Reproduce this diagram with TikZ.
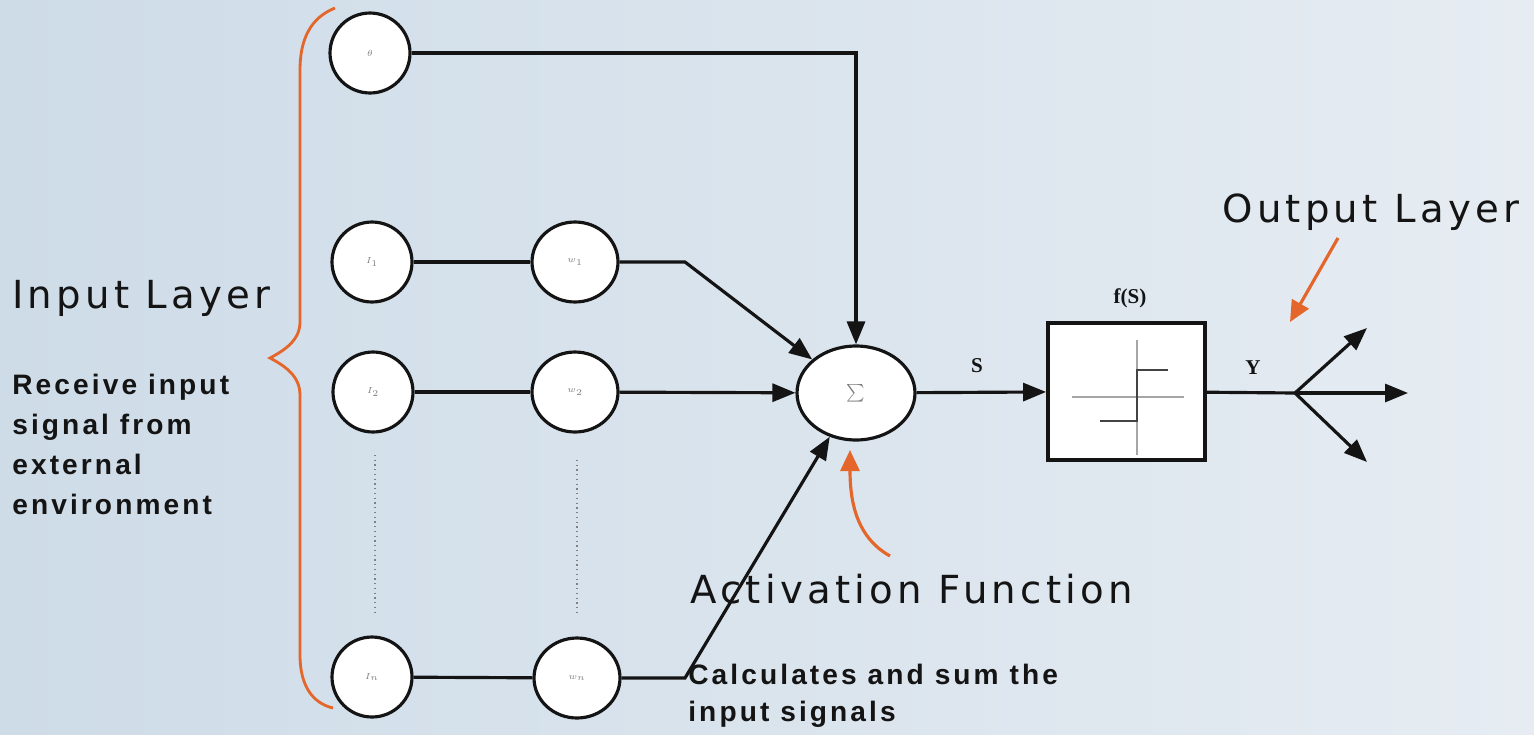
\documentclass[tikz,border=0pt]{standalone}
\usepackage{fontspec}
\setmainfont{Liberation Serif}
\newfontfamily\djv[LetterSpace=11]{DejaVu Sans}
\newfontfamily\lib[LetterSpace=11]{Liberation Sans}
\usetikzlibrary{arrows.meta,shapes.geometric}
\definecolor{bgL}{RGB}{206,220,232}
\definecolor{bgR}{RGB}{230,236,242}
\definecolor{org}{RGB}{228,102,42}
\definecolor{ink}{RGB}{20,20,20}
\tikzset{
  neuron/.style={circle,draw=ink,line width=1.8pt,fill=white,minimum size=1.6cm,inner sep=0pt,font=\tiny,text=gray},
  wnode/.style={ellipse,draw=ink,line width=1.8pt,fill=white,minimum width=1.72cm,minimum height=1.6cm,inner sep=0pt,font=\tiny,text=gray},
  sumnode/.style={ellipse,draw=ink,line width=1.8pt,fill=white,minimum width=2.36cm,minimum height=1.88cm,inner sep=0pt,font=\scriptsize,text=gray},
  fbox/.style={rectangle,draw=ink,line width=2.2pt,fill=white,minimum width=3.14cm,minimum height=2.74cm,inner sep=0pt},
  conn/.style={draw=ink,line width=1.8pt},
  arr/.style={conn,-{Triangle[length=0.46cm,width=0.36cm]}},
  oarr/.style={draw=org,line width=1.8pt,-{Triangle[length=0.42cm,width=0.38cm]}},
  bigtxt/.style={font=\djv\fontsize{22}{26}\selectfont,text=ink,inner sep=0pt},
  smalltxt/.style={font=\lib\bfseries\fontsize{16}{22.7}\selectfont,text=ink,inner sep=0pt,align=left},
  lbl/.style={font=\bfseries\fontsize{12}{14}\selectfont,text=ink,inner sep=0pt},
  dotline/.style={draw=gray,line width=0.7pt,dotted}
}
\begin{document}
\begin{tikzpicture}[x=0.02cm,y=-0.02cm]
\useasboundingbox (0,0) rectangle (1534,734);
\shade[left color=bgL,right color=bgR] (0,0) rectangle (1534,734);
% brace
\draw[org,line width=1.6pt] (335,8) .. controls (310,18) and (300,40) .. (300,70) -- (300,322) .. controls (300,340) and (285,350) .. (270,358) .. controls (285,366) and (300,376) .. (300,395) -- (300,655) .. controls (300,685) and (312,703) .. (333,708);
% nodes
\node[neuron] (theta) at (370,53) {$\theta$};
\node[neuron] (i1) at (372,262) {$I_1$};
\node[neuron] (i2) at (373,392) {$I_2$};
\node[neuron] (in) at (372,677) {$I_n$};
\node[wnode] (w1) at (575,262) {$w_1$};
\node[wnode] (w2) at (575,392) {$w_2$};
\node[wnode] (wn) at (577,678) {$w_n$};
\node[sumnode] (sum) at (856,393) {$\sum$};
\node[fbox] (f) at (1126.5,391.5) {};
\coordinate (c1) at (685,262);
\coordinate (c3) at (685,678);
\coordinate (split) at (1295,393);
\coordinate (o1) at (1367,328);
\coordinate (o2) at (1408,393);
\coordinate (o3) at (1367,462);
% dotted
\draw[dotline] (375,455) -- (375,612);
\draw[dotline] (577,460) -- (577,615);
% connectors
\draw[conn] (i1) -- (w1);
\draw[conn] (i2) -- (w2);
\draw[conn] (in) -- (wn);
\draw[arr] (theta) -- (theta -| sum) -- (sum);
\draw[arr] (w1) -- (c1) -- (sum);
\draw[arr] (w2) -- (sum);
\draw[arr] (wn) -- (c3) -- (sum);
\draw[arr] (sum) -- (f);
\draw[conn] (f) -- (split);
\draw[arr] (split) -- (o1);
\draw[arr] (split) -- (o2);
\draw[arr] (split) -- (o3);
% step function
\draw[gray!70,line width=0.6pt] (1072,397) -- (1184,397);
\draw[gray!70,line width=0.6pt] (1137,340) -- (1137,455);
\draw[ink!80,line width=1.2pt] (1100,421) -- (1137,421) -- (1137,370) -- (1168,370);
% labels
\node[lbl] (slbl) at (977,366) {S};
\node[lbl] (ylbl) at (1253,368) {Y};
\node[lbl] (flbl) at (1130,298) {f(S)};
% texts
\node[bigtxt,anchor=base west] (inlayer) at (12,308) {Input Layer};
\node[bigtxt,anchor=base west] (outlayer) at (1222,222) {Output Layer};
\node[bigtxt,anchor=base west] (actfun) at (690,603) {Activation Function};
\node[smalltxt,anchor=north west] (recv) at (12,374) {Receive input\\signal from\\external\\environment};
\node[smalltxt,anchor=north west,font=\lib\bfseries\fontsize{16}{21}\selectfont] (calc) at (688,664) {Calculates and sum the\\input signals};
% orange arrows
\draw[oarr] (1338,238) -- (1290,322);
\draw[oarr] (890,556) .. controls (858,538) and (850,505) .. (850,450);
\end{tikzpicture}
\end{document}
